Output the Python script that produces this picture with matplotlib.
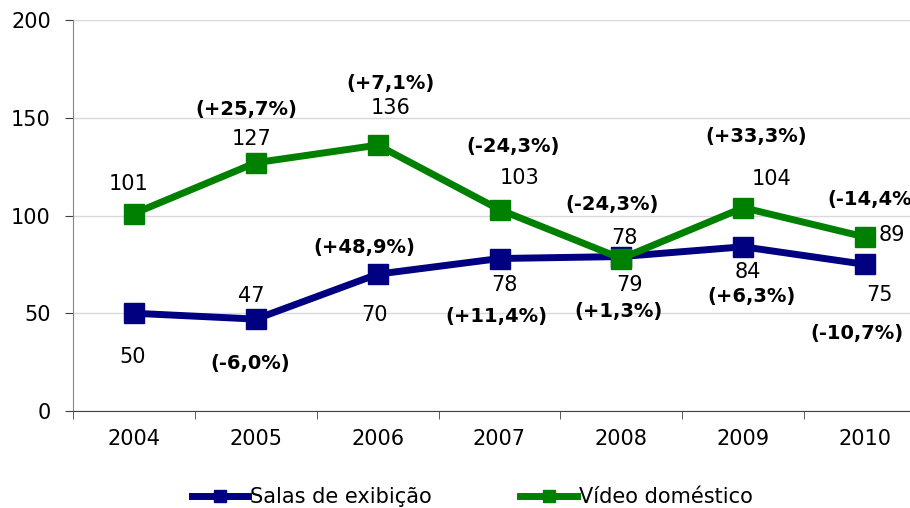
import matplotlib
matplotlib.use("Agg")
import matplotlib.pyplot as plt
from matplotlib.lines import Line2D
import numpy as np

# ---- data ----
years = ["2004", "2005", "2006", "2007", "2008", "2009", "2010"]
salas = [50, 47, 70, 78, 79, 84, 75]
video = [101, 127, 136, 103, 78, 104, 89]
salas_pct = ["", "(-6,0%)", "(+48,9%)", "(+11,4%)", "(+1,3%)", "(+6,3%)", "(-10,7%)"]
video_pct = ["", "(+25,7%)", "(+7,1%)", "(-24,3%)", "(-24,3%)", "(+33,3%)", "(-14,4%)"]

# label offsets in pixels (dx, dy) from each point
salas_val_off = [(-1, -44), (-5, 23), (-3, -41), (5, -26), (8, -28), (5, -25), (14, -31)]
salas_pct_off = [(0, 0), (-6, -44), (-13, 27), (-3, -58), (-3, -55), (8, -50), (-8, -69)]
video_val_off = [(-5, 30), (-4, 24), (13, 37), (20, 32), (3, 21), (28, 29), (27, 2)]
video_pct_off = [(0, 0), (-9, 53), (13, 62), (14, 63), (-9, 54), (13, 71), (9, 38)]

NAVY = "#000080"
GREEN = "#008000"

plt.rcParams["font.family"] = ["DejaVu Sans"]

fig = plt.figure(figsize=(9.10, 5.08), dpi=100)
ax = fig.add_axes([73 / 910, 1 - 411 / 508, 853 / 910, 391 / 508])

x = np.arange(len(years))
ax.plot(x, salas, color=NAVY, lw=5, marker="s", ms=14, zorder=3, clip_on=False)
ax.plot(x, video, color=GREEN, lw=5, marker="s", ms=14, zorder=4, clip_on=False)

def put_labels(vals, texts, offs, bold):
    for i, (v, t, o) in enumerate(zip(vals, texts, offs)):
        if not t:
            continue
        ax.annotate(t, (x[i], v), xytext=o, textcoords="offset pixels",
                    ha="center", va="center", fontsize=14 if bold else 15,
                    fontweight="bold" if bold else "normal", color="black",
                    annotation_clip=False, zorder=6)

put_labels(salas, [str(v) for v in salas], salas_val_off, False)
put_labels(salas, salas_pct, salas_pct_off, True)
put_labels(video, [str(v) for v in video], video_val_off, False)
put_labels(video, video_pct, video_pct_off, True)

ax.set_xlim(-0.5, len(years) - 0.5)
ax.set_ylim(0, 200)
ax.set_yticks([0, 50, 100, 150, 200])
ax.set_xticks(x)
ax.set_xticklabels(years)
ax.set_xticks(np.arange(-0.5, len(years)), minor=True)
ax.tick_params(axis="x", which="major", length=0, pad=13, labelsize=15)
ax.tick_params(axis="x", which="minor", length=6, direction="out", color="#404040")
ax.tick_params(axis="y", length=6, direction="out", pad=10, labelsize=15, color="#404040")

ax.grid(axis="y", color="#d9d9d9", lw=1)
ax.set_axisbelow(True)
for s in ["top", "right"]:
    ax.spines[s].set_visible(False)
ax.spines["left"].set_color("#868686")
ax.spines["bottom"].set_color("#404040")

handles = [
    Line2D([], [], color=NAVY, lw=5, marker="s", ms=8),
    Line2D([], [], color=GREEN, lw=5, marker="s", ms=8),
]
fig.legend(handles, ["Salas de exibição", "Vídeo doméstico"], loc="center",
           bbox_to_anchor=(0.519, 0.022), ncol=2, frameon=False, fontsize=15,
           handlelength=2.7, handletextpad=0.1, columnspacing=4.25)

fig.savefig("out.png", dpi=100)
